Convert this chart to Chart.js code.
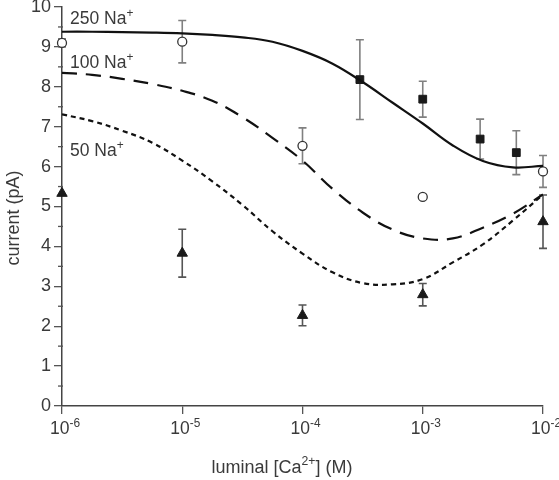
<!DOCTYPE html>
<html>
<head>
<meta charset="utf-8">
<script src="https://cdn.jsdelivr.net/npm/chart.js@4.4.0/dist/chart.umd.min.js"></script>
<style>
  html, body { margin: 0; padding: 0; background: #fff; }
  #wrap { width: 559px; height: 480px; }
</style>
</head>
<body>
<div id="wrap"><canvas id="caChart" width="559" height="480"></canvas></div>
<script>
// fitted curves, sampled every quarter decade (exponent of [Ca2+])
const fitLogX = [-6, -5.75, -5.5, -5.25, -5, -4.75, -4.5, -4.25, -4, -3.75, -3.5, -3.25, -3, -2.75, -2.5, -2.25, -2];
const fit250 = [9.38, 9.38, 9.37, 9.36, 9.34, 9.30, 9.24, 9.13, 8.90, 8.58, 8.12, 7.60, 7.08, 6.53, 6.14, 5.98, 6.02];
const fit100 = [8.35, 8.30, 8.20, 8.07, 7.90, 7.65, 7.24, 6.72, 6.15, 5.44, 4.85, 4.42, 4.20, 4.20, 4.47, 4.82, 5.30];
const fit50 = [7.31, 7.14, 6.90, 6.60, 6.15, 5.63, 5.04, 4.38, 3.82, 3.35, 3.08, 3.05, 3.18, 3.60, 4.05, 4.65, 5.30];

// measured points
const sqX = [3e-4, 1e-3, 3e-3, 6e-3];
const sqY = [8.18, 7.69, 6.69, 6.35];
const sqErr = [1.0, 0.45, 0.5, 0.55];

const circX = [1e-6, 1e-5, 1e-4, 1e-3, 1e-2];
const circY = [9.1, 9.13, 6.52, 5.24, 5.88];
const circErr = [0.1, 0.53, 0.45, 0, 0.4];

const triX = [1e-6, 1e-5, 1e-4, 1e-3, 1e-2];
const triY = [5.33, 3.83, 2.27, 2.79, 4.62];
const triErr = [0, 0.6, 0.26, 0.28, 0.67];

const xTickExp = [-6, -5, -4, -3, -2];
const yTicks = [0, 1, 2, 3, 4, 5, 6, 7, 8, 9, 10];

function toPoints(xs, ys) {
    return xs.map((x, i) => ({ x: x, y: ys[i] }));
}
function fitPoints(ys) {
    return fitLogX.map((e, i) => ({ x: Math.pow(10, e), y: ys[i] }));
}

const FONT = '"Liberation Sans", Arial, sans-serif';
const TXT = '#3a3a3a';

// text with a raised part, e.g. 10^-6
function drawSup(ctx, parts, x, y, size, align) {
    ctx.save();
    ctx.textBaseline = 'alphabetic';
    ctx.textAlign = 'left';
    let total = 0;
    parts.forEach(p => {
        ctx.font = (p.sup ? size * 0.68 : size) + 'px ' + FONT;
        p.w = ctx.measureText(p.t).width;
        total += p.w;
    });
    let cx = align === 'center' ? x - total / 2 : x;
    parts.forEach(p => {
        ctx.font = (p.sup ? size * 0.68 : size) + 'px ' + FONT;
        ctx.fillText(p.t, cx, p.sup ? y - size * 0.42 : y);
        cx += p.w;
    });
    ctx.restore();
}

const errorBars = {
    id: 'errorBars',
    beforeDatasetsDraw(chart) {
        const ctx = chart.ctx;
        const xs = chart.scales.x, ys = chart.scales.y;
        const sets = [[sqX, sqY, sqErr, '#808080'], [circX, circY, circErr, '#808080'], [triX, triY, triErr, '#555']];
        ctx.save();
        ctx.lineWidth = 1.6;
        sets.forEach(s => {
            ctx.strokeStyle = s[3];
            s[0].forEach((xv, i) => {
                if (!s[2][i]) return;
                const px = xs.getPixelForValue(xv);
                const top = ys.getPixelForValue(s[1][i] + s[2][i]);
                const bot = ys.getPixelForValue(s[1][i] - s[2][i]);
                ctx.beginPath();
                ctx.moveTo(px, top); ctx.lineTo(px, bot);
                ctx.moveTo(px - 4, top); ctx.lineTo(px + 4, top);
                ctx.moveTo(px - 4, bot); ctx.lineTo(px + 4, bot);
                ctx.stroke();
            });
        });
        ctx.restore();
    }
};

const decorations = {
    id: 'decorations',
    afterDraw(chart) {
        const ctx = chart.ctx;
        const area = chart.chartArea;
        const xs = chart.scales.x, ys = chart.scales.y;
        ctx.save();
        ctx.fillStyle = TXT;

        // minor y ticks
        ctx.strokeStyle = '#555';
        ctx.lineWidth = 1.3;
        for (let i = 0; i < yTicks.length - 1; i++) {
            const py = ys.getPixelForValue(yTicks[i] + 0.5);
            ctx.beginPath();
            ctx.moveTo(area.left - 4, py); ctx.lineTo(area.left + 1, py);
            ctx.stroke();
        }

        // x tick labels
        xTickExp.forEach(e => {
            const px = xs.getPixelForValue(Math.pow(10, e));
            drawSup(ctx, [{ t: '10' }, { t: '-' + Math.abs(e), sup: true }], px + 3, area.bottom + 28, 17.5, 'center');
        });

        // axis titles
        drawSup(ctx, [{ t: 'luminal [Ca' }, { t: '2+', sup: true }, { t: '] (M)' }], 282, area.bottom + 67, 18, 'center');
        ctx.save();
        ctx.translate(14, 218);
        ctx.rotate(-Math.PI / 2);
        ctx.font = '18px ' + FONT;
        ctx.textAlign = 'center';
        ctx.textBaseline = 'middle';
        ctx.fillText('current (pA)', 0, 0);
        ctx.restore();

        // curve labels
        drawSup(ctx, [{ t: '250 Na' }, { t: '+', sup: true }], area.left + 8, 24, 17.5, 'left');
        drawSup(ctx, [{ t: '100 Na' }, { t: '+', sup: true }], area.left + 8, 68, 17.5, 'left');
        drawSup(ctx, [{ t: '50 Na' }, { t: '+', sup: true }], area.left + 8, 156, 17.5, 'left');
        ctx.restore();
    }
};

const ctx = document.getElementById('caChart').getContext('2d');
new Chart(ctx, {
    type: 'scatter',
    data: {
        datasets: [
            {
                label: '250 Na fit', data: fitPoints(fit250), showLine: true,
                borderColor: '#111', borderWidth: 2.2, pointRadius: 0, tension: 0.4
            },
            {
                label: '100 Na fit', data: fitPoints(fit100), showLine: true,
                borderColor: '#111', borderWidth: 2.2, borderDash: [15, 9], pointRadius: 0, tension: 0.4
            },
            {
                label: '50 Na fit', data: fitPoints(fit50), showLine: true,
                borderColor: '#111', borderWidth: 2.2, borderDash: [5, 4], pointRadius: 0, tension: 0.4
            },
            {
                label: '250 Na', data: toPoints(sqX, sqY), pointStyle: 'rect', pointRadius: 5.5,
                backgroundColor: '#1a1a1a', borderColor: '#1a1a1a', borderWidth: 1, clip: false
            },
            {
                label: '100 Na', data: toPoints(circX, circY), pointStyle: 'circle', pointRadius: 4.5,
                backgroundColor: '#fff', borderColor: '#333', borderWidth: 1.3, clip: false
            },
            {
                label: '50 Na', data: toPoints(triX, triY), pointStyle: 'triangle', pointRadius: 6,
                backgroundColor: '#1a1a1a', borderColor: '#1a1a1a', borderWidth: 1, clip: false
            }
        ]
    },
    options: {
        responsive: false,
        animation: false,
        layout: { padding: { top: 6, right: 16, left: 0, bottom: 0 } },
        plugins: { legend: { display: false }, tooltip: { enabled: false } },
        scales: {
            x: {
                type: 'logarithmic',
                min: 1e-6,
                max: 1e-2,
                afterBuildTicks: scale => {
                    scale.ticks = xTickExp.map(e => ({ value: Math.pow(10, e) }));
                },
                afterFit: scale => {
                    scale.height = 74;
                    scale.paddingLeft = 0; scale.paddingRight = 0;
                },
                ticks: { callback: () => '', padding: 0 },
                grid: { drawOnChartArea: false, tickLength: 8, color: '#555', lineWidth: 1.3 },
                border: { color: '#444', width: 1.5 }
            },
            y: {
                min: 0,
                max: 10,
                afterBuildTicks: scale => {
                    scale.ticks = yTicks.map(v => ({ value: v }));
                },
                afterFit: scale => {
                    scale.width = 62;
                    scale.paddingTop = 0; scale.paddingBottom = 0;
                },
                ticks: { color: TXT, padding: 3, font: { family: FONT, size: 18 } },
                grid: { drawOnChartArea: false, tickLength: 8, color: '#555', lineWidth: 1.3 },
                border: { color: '#444', width: 1.5 }
            }
        }
    },
    plugins: [errorBars, decorations]
});
</script>
</body>
</html>
